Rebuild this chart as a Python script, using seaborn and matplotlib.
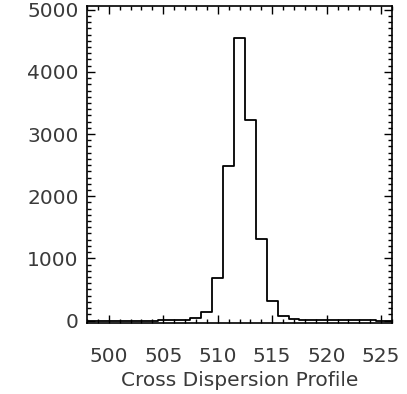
import numpy as np
import pandas as pd
import matplotlib
matplotlib.use("Agg")
import matplotlib.pyplot as plt
from matplotlib.ticker import MultipleLocator
import seaborn as sns

# Data (bin centres and counts)
pixel = [498, 499, 500, 501, 502, 503, 504, 505, 506, 507, 508, 509, 510, 511,
         512, 513, 514, 515, 516, 517, 518, 519, 520, 521, 522, 523, 524, 525, 526]
counts = [0, 0, 0, 0, 0, 0, 0, 3, 5, 10, 43, 140, 690, 2480,
          4550, 3230, 1310, 320, 70, 27, 15, 10, 8, 5, 3, 2, 1, 0, 0]
x_ticks = [500, 505, 510, 515, 520, 525]
y_ticks = [0, 1000, 2000, 3000, 4000, 5000]
x_label = "Cross Dispersion Profile"

df = pd.DataFrame({"pixel": pixel, "counts": counts})

sns.set_theme(style="white")
plt.rcParams["font.family"] = ["DejaVu Sans"]

fig = plt.figure(figsize=(4.07, 3.94), dpi=100)
ax = fig.add_axes([87 / 407, 71 / 394, 305 / 407, 317 / 394])

sns.histplot(data=df, x="pixel", weights="counts", discrete=True,
             element="step", fill=False, color="black", linewidth=1.3, ax=ax)

ax.set_xlim(498, 526)
ax.set_ylim(-40, 5060)
ax.set_xticks(x_ticks)
ax.set_yticks(y_ticks)
ax.xaxis.set_minor_locator(MultipleLocator(1))
ax.yaxis.set_minor_locator(MultipleLocator(100))
ax.tick_params(which="both", direction="in", top=True, right=True,
               bottom=True, left=True, colors="black", width=1.0)
ax.tick_params(which="major", length=6)
ax.tick_params(which="minor", length=3)
ax.tick_params(axis="both", which="major", labelsize=14.5, labelcolor="#3a3a3a")
ax.tick_params(axis="x", pad=17)
ax.tick_params(axis="y", pad=6)
ax.set_xlabel(x_label, fontsize=14.5, color="#3a3a3a", labelpad=4)
ax.set_ylabel("")
for s in ax.spines.values():
    s.set_color("black")
    s.set_linewidth(1.2)

fig.savefig("out.png", dpi=100, facecolor="white")
